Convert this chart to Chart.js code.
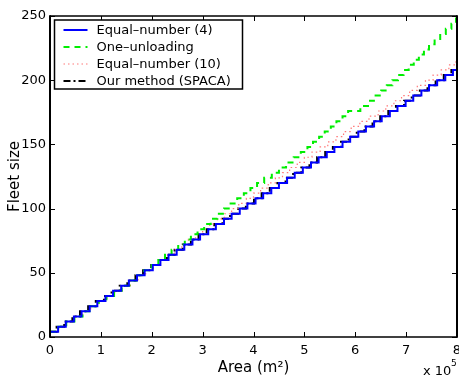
<!DOCTYPE html>
<html><head><meta charset="utf-8">
<script src="https://cdn.jsdelivr.net/npm/chart.js@4/dist/chart.umd.min.js"></script>
<style>html,body{margin:0;padding:0;background:#fff;}canvas{display:block;}</style>
</head><body>
<canvas id="c" width="459" height="376"></canvas>
<script>
// ---- data (x in units of 10^5 m^2) ----
const xTicks = [0, 1, 2, 3, 4, 5, 6, 7, 8];
const yTicks = [0, 50, 100, 150, 200, 250];
const seriesNames = ['Equal–number (4)', 'One–unloading', 'Equal–number (10)', 'Our method (SPACA)'];

// each x is where the fleet size steps up to the matching y value
const eqNum4X = [0, 0.16, 0.31, 0.47, 0.62, 0.78, 0.93, 1.09, 1.24, 1.40, 1.55, 1.71, 1.86, 2.02, 2.17, 2.33, 2.49, 2.64, 2.80, 2.95, 3.11, 3.26, 3.42, 3.57, 3.73, 3.88, 4.04, 4.19, 4.35, 4.50, 4.66, 4.81, 4.97, 5.13, 5.28, 5.44, 5.59, 5.75, 5.90, 6.06, 6.21, 6.37, 6.52, 6.68, 6.83, 6.99, 7.14, 7.30, 7.45, 7.61, 7.77, 7.92, 8];
const eqNum4Y = [4, 8, 12, 16, 20, 24, 28, 32, 36, 40, 44, 48, 52, 56, 60, 64, 68, 72, 76, 80, 84, 88, 92, 96, 100, 104, 108, 112, 116, 120, 124, 128, 132, 136, 140, 144, 148, 152, 156, 160, 164, 168, 172, 176, 180, 184, 188, 192, 196, 200, 204, 208, 208];

const oneUnloadX = [0, 0.16, 0.32, 0.48, 0.64, 0.80, 0.96, 1.11, 1.26, 1.41, 1.56, 1.70, 1.85, 2.00, 2.13, 2.26, 2.39, 2.52, 2.65, 2.77, 2.90, 3.03, 3.16, 3.29, 3.42, 3.55, 3.68, 3.81, 3.94, 4.07, 4.21, 4.36, 4.50, 4.64, 4.79, 4.93, 5.06, 5.17, 5.29, 5.40, 5.52, 5.63, 5.75, 5.86, 6.10, 6.29, 6.40, 6.51, 6.62, 6.73, 6.84, 6.95, 7.05, 7.15, 7.25, 7.35, 7.45, 7.56, 7.67, 7.78, 7.89, 7.98, 8];
const oneUnloadY = [4, 8, 12, 16, 20, 24, 28, 32, 36, 40, 44, 48, 52, 56, 60, 64, 68, 72, 76, 80, 84, 88, 92, 96, 100, 104, 108, 112, 116, 120, 124, 128, 132, 136, 140, 144, 148, 152, 156, 160, 164, 168, 172, 176, 180, 184, 188, 192, 196, 200, 204, 208, 212, 216, 220, 224, 228, 232, 236, 240, 244, 248, 248];

const eqNum10X = [0, 0.16, 0.32, 0.48, 0.64, 0.80, 0.96, 1.12, 1.27, 1.42, 1.58, 1.73, 1.88, 2.03, 2.17, 2.31, 2.45, 2.59, 2.72, 2.86, 3.00, 3.14, 3.29, 3.43, 3.57, 3.71, 3.86, 4.00, 4.14, 4.29, 4.43, 4.57, 4.71, 4.86, 5.00, 5.15, 5.31, 5.46, 5.62, 5.77, 5.92, 6.09, 6.27, 6.45, 6.60, 6.76, 6.91, 7.07, 7.22, 7.38, 7.53, 7.69, 7.84, 7.98, 8];
const eqNum10Y = [4, 8, 12, 16, 20, 24, 28, 32, 36, 40, 44, 48, 52, 56, 60, 64, 68, 72, 76, 80, 84, 88, 92, 96, 100, 104, 108, 112, 116, 120, 124, 128, 132, 136, 140, 144, 148, 152, 156, 160, 164, 168, 172, 176, 180, 184, 188, 192, 196, 200, 204, 208, 212, 216, 216];

const spacaX = [0, 0.13, 0.28, 0.44, 0.59, 0.75, 0.90, 1.06, 1.21, 1.37, 1.52, 1.68, 1.83, 1.99, 2.14, 2.30, 2.45, 2.61, 2.77, 2.92, 3.08, 3.23, 3.39, 3.54, 3.70, 3.85, 4.01, 4.16, 4.32, 4.47, 4.63, 4.78, 4.94, 5.10, 5.25, 5.41, 5.56, 5.72, 5.87, 6.03, 6.18, 6.34, 6.49, 6.65, 6.80, 6.96, 7.11, 7.27, 7.42, 7.58, 7.74, 7.89, 8];
const spacaY = [4, 8, 12, 16, 20, 24, 28, 32, 36, 40, 44, 48, 52, 56, 60, 64, 68, 72, 76, 80, 84, 88, 92, 96, 100, 104, 108, 112, 116, 120, 124, 128, 132, 136, 140, 144, 148, 152, 156, 160, 164, 168, 172, 176, 180, 184, 188, 192, 196, 200, 204, 208, 208];

const FONT = "'DejaVu Sans', 'Liberation Sans', Arial, sans-serif";
const FS = 13;
const TFS = 15;
// value y_i holds from x_i until the next step
const pts = (X, Y) => {
  const out = [];
  X.forEach((x, i) => {
    if (i > 0) out.push({ x: x, y: Y[i - 1] });
    out.push({ x: x, y: Y[i] });
  });
  return out;
};

const datasets = [
  { label: seriesNames[0], data: pts(eqNum4X, eqNum4Y), borderColor: '#0000ff', borderWidth: 2, borderDash: [] },
  { label: seriesNames[1], data: pts(oneUnloadX, oneUnloadY), borderColor: '#00ee00', borderWidth: 2, borderDash: [6, 5] },
  { label: seriesNames[2], data: pts(eqNum10X, eqNum10Y), borderColor: '#ff7878', borderWidth: 1.2, borderDash: [1.5, 3] },
  { label: seriesNames[3], data: pts(spacaX, spacaY), borderColor: '#000000', borderWidth: 2, borderDash: [7, 3, 2, 3] }
];

const matlabPlugin = {
  id: 'matlabBox',
  afterDraw(chart) {
    const { ctx, chartArea: a, scales } = chart;
    const sx = scales.x, sy = scales.y;
    const line = (x1, y1, x2, y2) => { ctx.beginPath(); ctx.moveTo(x1, y1); ctx.lineTo(x2, y2); ctx.stroke(); };
    ctx.save();
    ctx.strokeStyle = '#000';
    ctx.setLineDash([]);
    ctx.lineWidth = 1;
    xTicks.forEach(v => {
      const p = Math.round(sx.getPixelForValue(v)) + 0.5;
      line(p, a.bottom, p, a.bottom - 5);
      line(p, a.top, p, a.top + 5);
    });
    yTicks.forEach(v => {
      const p = Math.round(sy.getPixelForValue(v)) + 0.5;
      line(a.left, p, a.left + 5, p);
      line(a.right, p, a.right - 5, p);
    });
    // frame
    ctx.lineWidth = 2;
    line(a.left, a.top - 0.75, a.left, a.bottom + 0.75);
    line(a.right, a.top - 0.75, a.right, a.bottom + 0.75);
    ctx.lineWidth = 1.5;
    line(a.left, a.top, a.right, a.top);
    line(a.left, a.bottom, a.right, a.bottom);

    // legend box
    const lx = a.left + 4.5, ly = a.top + 4, lw = 188, lh = 69;
    ctx.fillStyle = '#fff';
    ctx.fillRect(lx, ly, lw, lh);
    ctx.lineWidth = 1.5;
    ctx.strokeRect(lx, ly, lw, lh);
    ctx.font = FS + 'px ' + FONT;
    ctx.textBaseline = 'middle';
    ctx.textAlign = 'left';
    chart.data.datasets.forEach((ds, i) => {
      const yy = ly + 10 + i * 17;
      ctx.strokeStyle = ds.borderColor;
      ctx.lineWidth = ds.borderWidth;
      ctx.setLineDash(ds.borderDash || []);
      line(lx + 9, yy, lx + 33, yy);
      ctx.setLineDash([]);
      ctx.fillStyle = '#000';
      ctx.fillText(ds.label, lx + 42, yy + 0.5);
    });

    // exponent label
    ctx.fillStyle = '#000';
    ctx.textBaseline = 'alphabetic';
    ctx.textAlign = 'left';
    ctx.font = FS + 'px ' + FONT;
    ctx.fillText('x 10', 423, 375);
    ctx.font = '9px ' + FONT;
    ctx.fillText('5', 451, 366);
    ctx.restore();
  }
};

new Chart(document.getElementById('c'), {
  type: 'line',
  data: { datasets: datasets },
  options: {
    responsive: false,
    animation: false,
    devicePixelRatio: 1,
    layout: { padding: { left: 0, top: 16, right: 2, bottom: 0 } },
    plugins: { legend: { display: false }, tooltip: { enabled: false } },
    elements: { point: { radius: 0 }, line: { tension: 0 } },
    scales: {
      x: {
        type: 'linear', min: 0, max: 8,
        afterBuildTicks: s => { s.ticks = xTicks.map(v => ({ value: v })); },
        grid: { display: false, drawTicks: false },
        border: { display: false },
        ticks: { color: '#000', font: { family: FONT, size: FS }, padding: 6, maxRotation: 0, autoSkip: false },
        title: { display: true, text: 'Area (m²)', color: '#000', font: { family: FONT, size: TFS, lineHeight: 1 }, padding: { top: 0, bottom: 0 } },
        afterFit: s => { s.height = 39; s.paddingLeft = 0; s.paddingRight = 0; }
      },
      y: {
        type: 'linear', min: 0, max: 250,
        afterBuildTicks: s => { s.ticks = yTicks.map(v => ({ value: v })); },
        grid: { display: false, drawTicks: false },
        border: { display: false },
        ticks: { color: '#000', font: { family: FONT, size: FS }, padding: 4, autoSkip: false },
        title: { display: true, text: 'Fleet size', color: '#000', font: { family: FONT, size: TFS, lineHeight: 1 }, padding: { top: 8, bottom: 0 } },
        afterFit: s => { s.width = 50; s.paddingTop = 0; s.paddingBottom = 0; }
      }
    }
  },
  plugins: [matlabPlugin]
});
</script>
</body></html>
